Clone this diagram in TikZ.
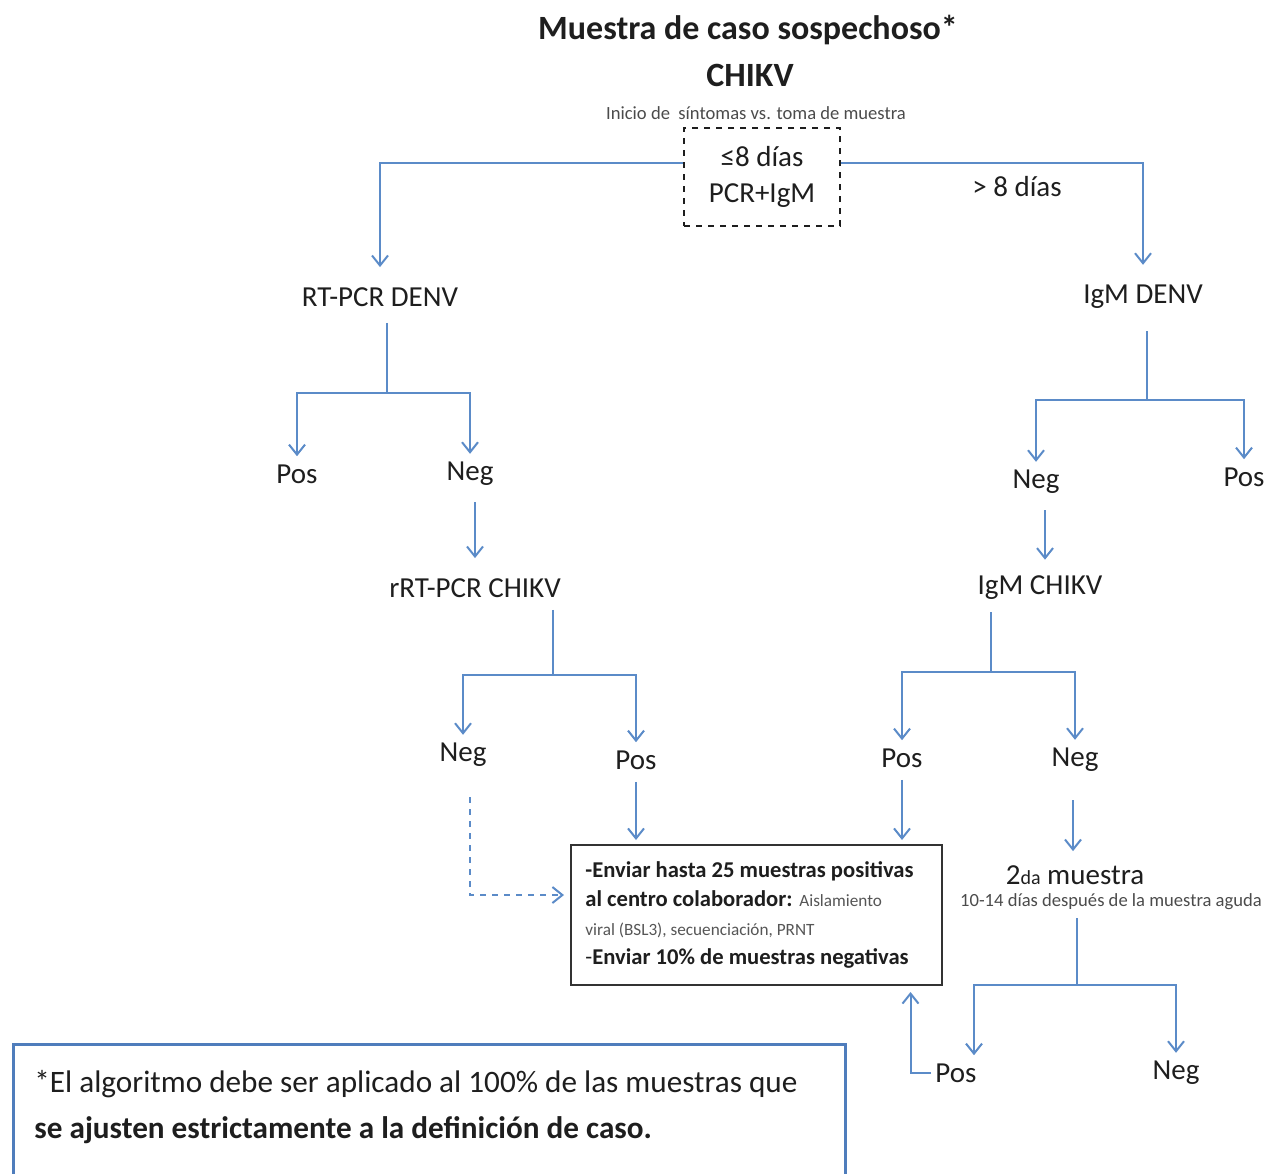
\documentclass[tikz,border=0pt]{standalone}
\usepackage{fontspec}
\setmainfont{Carlito}
\usetikzlibrary{arrows.meta}
\definecolor{linea}{RGB}{91,139,200}
\definecolor{marco}{RGB}{79,125,188}
\definecolor{texto}{RGB}{30,30,30}

\begin{document}
\begin{tikzpicture}[x=0.5pt, y=-0.5pt,
    lbl/.style={inner sep=2pt, text=texto, font=\fontsize{14.5}{16}\selectfont},
    flow/.style={draw=linea, line width=1pt, -{Straight Barb[length=5pt, width=8pt]}, shorten >=2pt},
    rama/.style={draw=linea, line width=1pt}]
\useasboundingbox (0,0) rectangle (1267,1173);

% encabezado
\node[text=texto, font=\bfseries\fontsize{17}{20}\selectfont] (titulo) at (748,30) {Muestra de caso sospechoso*};
\node[text=texto, font=\bfseries\fontsize{17}{20}\selectfont] (virus) at (750,75) {CHIKV};
\node[text=texto!80, font=\fontsize{9.3}{11}\selectfont] (inicio) at (756,113) {Inicio de\ \ síntomas vs. toma de muestra};
\node[lbl, draw=texto, dashed, line width=0.9pt, minimum width=78pt, minimum height=49pt, align=center] (corte) at (762,177) {≤8 días\\[2pt]PCR+IgM};
\node[lbl] (gt8) at (1017,187) {> 8 días};

% rama izquierda
\node[lbl] (pcrdenv) at (380,297) {RT-PCR DENV};
\node[lbl] (pos1) at (297,474) {Pos};
\node[lbl] (neg1) at (470,474) {Neg};
\node[lbl] (pcrchikv) at (475,588) {rRT-PCR CHIKV};
\node[lbl] (neg2) at (463,755) {Neg};
\node[lbl] (pos2) at (636,760) {Pos};

% rama derecha
\node[lbl] (igmdenv) at (1143,297) {IgM DENV};
\node[lbl] (neg3) at (1036,482) {Neg};
\node[lbl] (pos3) at (1244,477) {Pos};
\node[lbl] (igmchikv) at (1040,588) {IgM CHIKV};
\node[lbl] (pos4) at (902,758) {Pos};
\node[lbl] (neg4) at (1075,760) {Neg};
\node[lbl] (segunda) at (1075,875) {2{\fontsize{10}{12}\selectfont da} muestra};
\node[text=texto!80, font=\fontsize{9.3}{11}\selectfont, inner sep=1pt] (plazo) at (1111,902) {10-14 días después de la muestra aguda};
\node[lbl] (pos5) at (956,1073) {Pos};
\node[lbl] (neg5) at (1176,1073) {Neg};

% caja de envio
\node[draw=black!80, line width=1pt, fill=white, minimum width=185.5pt, minimum height=70pt] (envio) at (756.5,915) {};
\node[anchor=north west, align=left, inner sep=0pt, text=texto, font=\fontsize{11.3}{14.5}\selectfont] (enviotxt) at (585,861)
  {\textbf{-Enviar hasta 25 muestras positivas}\\
   \textbf{al centro colaborador:} {\fontsize{8.6}{9}\selectfont\color{texto!75}Aislamiento}\\
   {\fontsize{8.6}{9}\selectfont\color{texto!75}viral (BSL3), secuenciación, PRNT}\\
   -\textbf{Enviar 10\% de muestras negativas}};

% nota
\node[draw=marco, line width=1.6pt, minimum width=416pt, minimum height=66pt,
      anchor=north west, inner sep=0pt] (nota) at (12,1043) {};
\node[anchor=north west, align=left, inner sep=0pt, text=texto, font=\fontsize{15.6}{23}\selectfont] (notatxt) at (34,1070)
  {*El algoritmo debe ser aplicado al 100\% de las muestras que\\
   \textbf{se ajusten estrictamente a la definición de caso.}};

% conexiones
\draw[flow] ([yshift=7pt]corte.west) -| ([yshift=6pt]pcrdenv.north);
\draw[flow] ([yshift=7pt]corte.east) -| ([yshift=6pt]igmdenv.north);

\coordinate (j1) at (387,393);
\draw[rama] ([yshift=-6pt]pcrdenv.south -| j1) -- (j1);
\draw[flow] (j1) -| (pos1.north);
\draw[flow] (j1) -| (neg1.north);
\draw[flow, shorten <=6pt] (neg1.south -| 475,0) -- ([yshift=6pt]pcrchikv.north);

\coordinate (j2) at (553,675);
\draw[rama] ([yshift=-4pt]pcrchikv.south -| j2) -- (j2);
\draw[flow] (j2) -| (neg2.north);
\draw[flow] (j2) -| (pos2.north);
\draw[flow, shorten <=4pt] (pos2.south) -- (pos2.south |- envio.north);
\draw[flow, dashed, shorten <=13pt, shorten >=3pt] (neg2.south -| 470,0) |- ([yshift=10pt]envio.west);

\coordinate (j3) at (1147,400);
\draw[rama] ([yshift=-9pt]igmdenv.south -| j3) -- (j3);
\draw[flow] (j3) -| (neg3.north);
\draw[flow] (j3) -| (pos3.north);
\draw[flow, shorten <=6pt] (neg3.south -| 1045,0) -- ([yshift=4pt]igmchikv.north -| 1045,0);

\coordinate (j4) at (991,672);
\draw[rama] ([yshift=-4pt]igmchikv.south -| j4) -- (j4);
\draw[flow] (j4) -| (pos4.north);
\draw[flow] (j4) -| (neg4.north);
\draw[flow, shorten <=4pt] (pos4.south) -- (pos4.south |- envio.north);
\draw[flow, shorten <=12pt] (neg4.south -| 1073,0) -- ([yshift=3pt]segunda.north -| 1073,0);

\coordinate (j5) at (1077,985);
\draw[rama] ([yshift=-3pt]plazo.south -| j5) -- (j5);
\draw[flow] (j5) -| ([xshift=9pt]pos5.north);
\draw[flow] (j5) -| (neg5.north);
\draw[flow, shorten >=3pt] (pos5.west) -| ([xshift=77pt]envio.south);
\end{tikzpicture}
\end{document}
